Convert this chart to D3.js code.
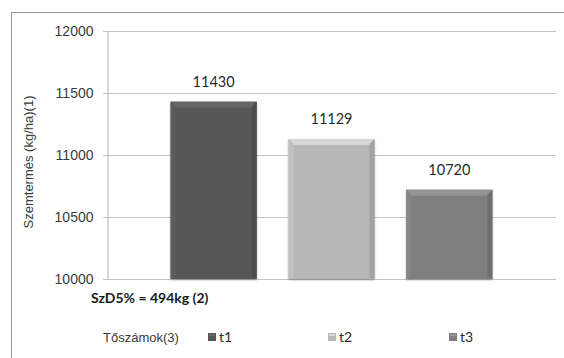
<!DOCTYPE html>
<html>
<head>
<meta charset="utf-8">
<script src="https://cdn.jsdelivr.net/npm/d3@7"></script>
<style>
  html, body { margin: 0; padding: 0; background: #fff; }
  svg { display: block; }
</style>
</head>
<body>
<svg id="chart" width="564" height="358"></svg>
<script>
const series = ["t1", "t2", "t3"];
const values = [11430, 11129, 10720];
const colors = ["#575757", "#b7b7b7", "#7e7e7e"];
const yTicks = [10000, 10500, 11000, 11500, 12000];
const yTitle = "Szemtermés (kg/ha)(1)";
const noteText = "SzD5% = 494kg (2)";
const legendTitle = "Tőszámok(3)";

const svg = d3.select("#chart");
const plot = { left: 107, right: 556, top: 31, bottom: 279 };

// outer frame (extends past the window on right and bottom)
svg.append("rect")
  .attr("x", 11.5).attr("y", 12.5)
  .attr("width", 620).attr("height", 420)
  .attr("fill", "none").attr("stroke", "#9a9a9a").attr("stroke-width", 1);

const x = d3.scaleBand().domain(series)
  .range([plot.left, plot.right])
  .paddingInner(0.27).paddingOuter(0.54);
const y = d3.scaleLinear().domain([10000, 12000]).range([plot.bottom, plot.top]);

// gridlines
svg.append("g").selectAll("line").data(yTicks).join("line")
  .attr("x1", plot.left - 4).attr("x2", plot.right)
  .attr("y1", d => Math.round(y(d)) + 0.5).attr("y2", d => Math.round(y(d)) + 0.5)
  .attr("stroke", "#c4c4c4").attr("stroke-width", 1.2);

// y axis
const yAxis = d3.axisLeft(y).tickValues(yTicks).tickSize(0).tickPadding(14).tickFormat(d3.format("d"));
const gy = svg.append("g").attr("transform", `translate(${plot.left + 0.5},0)`).call(yAxis);
gy.select(".domain").attr("stroke", "#bcbcbc").attr("stroke-width", 1.2);
gy.selectAll("text")
  .attr("font-family", "'Liberation Sans', Arial, sans-serif")
  .attr("font-size", 14).attr("fill", "#3a3a3a");

// y title
svg.append("text")
  .attr("transform", `translate(33,162) rotate(-90)`)
  .attr("text-anchor", "middle")
  .attr("font-family", "'Liberation Sans', Arial, sans-serif")
  .attr("font-size", 13).attr("fill", "#3a3a3a")
  .text(yTitle);

// defs for shadow
const defs = svg.append("defs");
const flt = defs.append("filter").attr("id", "shadow").attr("x", "-10%").attr("y", "-10%").attr("width", "120%").attr("height", "120%");
flt.append("feGaussianBlur").attr("in", "SourceAlpha").attr("stdDeviation", 1.2);
flt.append("feOffset").attr("dx", 0).attr("dy", 0.5).attr("result", "b");
flt.append("feComponentTransfer").append("feFuncA").attr("type", "linear").attr("slope", 0.35);
const fm = flt.append("feMerge");
fm.append("feMergeNode");
fm.append("feMergeNode").attr("in", "SourceGraphic");

const data = series.map((s, i) => ({ s, v: values[i], c: colors[i] }));
const bars = svg.append("g").selectAll("g").data(data).join("g");

bars.each(function(d) {
  const g = d3.select(this);
  const x0 = x(d.s), w = x.bandwidth();
  const y0 = y(d.v), y1 = y(10000);
  const h = y1 - y0;
  const b = 5;
  const base = d3.color(d.c);
  g.append("rect").attr("x", x0).attr("y", y0).attr("width", w).attr("height", h)
    .attr("fill", d.c).attr("filter", "url(#shadow)");
  g.append("polygon")
    .attr("points", [[x0, y0], [x0 + w, y0], [x0 + w - b, y0 + b], [x0 + b, y0 + b]].join(" "))
    .attr("fill", base.brighter(0.45));
  g.append("polygon")
    .attr("points", [[x0, y0], [x0 + b, y0 + b], [x0 + b, y1 - 1], [x0, y1]].join(" "))
    .attr("fill", base.brighter(0.15));
  g.append("polygon")
    .attr("points", [[x0 + w, y0], [x0 + w - b, y0 + b], [x0 + w - b, y1 - 1], [x0 + w, y1]].join(" "))
    .attr("fill", base.darker(0.35));
  g.append("line").attr("x1", x0 + b).attr("x2", x0 + w - b)
    .attr("y1", y0 + b + 0.5).attr("y2", y0 + b + 0.5)
    .attr("stroke", base.brighter(0.7)).attr("stroke-width", 1).attr("opacity", 0.6);
});

// value labels
svg.append("g").selectAll("text").data(data).join("text")
  .attr("x", d => x(d.s) + x.bandwidth() / 2)
  .attr("y", d => y(d.v) - 15)
  .attr("text-anchor", "middle")
  .attr("font-family", "Lato, 'Open Sans', sans-serif")
  .attr("font-size", 14.5).attr("fill", "#2a2a2a")
  .text(d => d.v);

// note
svg.append("text")
  .attr("x", 91).attr("y", 303)
  .attr("font-family", "Lato, 'Open Sans', sans-serif")
  .attr("font-weight", "bold")
  .attr("font-size", 14).attr("fill", "#1a1a1a")
  .text(noteText);

// legend
svg.append("text")
  .attr("x", 103).attr("y", 342)
  .attr("font-family", "'Liberation Sans', Arial, sans-serif")
  .attr("font-size", 13).attr("fill", "#3a3a3a")
  .text(legendTitle);

const legendX = d3.scaleOrdinal().domain(series).range([208, 328, 449]);
const lg = svg.append("g").selectAll("g").data(data).join("g")
  .attr("transform", d => `translate(${legendX(d.s)},333)`);
lg.append("rect").attr("width", 8).attr("height", 8).attr("fill", d => d.c);
lg.append("rect").attr("x", 1).attr("y", 1).attr("width", 6).attr("height", 2).attr("fill", d => d3.color(d.c).brighter(0.5));
lg.append("text").attr("x", 11).attr("y", 9)
  .attr("font-family", "Lato, 'Open Sans', sans-serif")
  .attr("font-size", 14).attr("fill", "#2a2a2a")
  .text(d => d.s);
</script>
</body>
</html>
